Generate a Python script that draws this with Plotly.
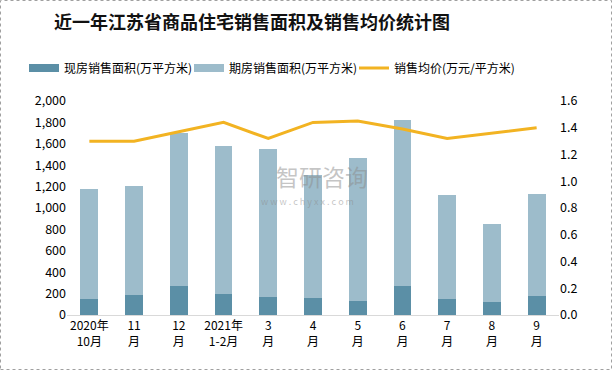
import plotly.graph_objects as go

categories = ["2020年<br>10月", "11<br>月", "12<br>月", "2021年<br>1-2月", "3<br>月", "4<br>月",
              "5<br>月", "6<br>月", "7<br>月", "8<br>月", "9<br>月"]
existing_area = [152, 190, 274, 199, 171, 162, 134, 274, 152, 124, 180]
forward_area = [1028, 1018, 1423, 1383, 1383, 1149, 1336, 1551, 972, 729, 953]
avg_price = [1.30, 1.30, 1.37, 1.44, 1.32, 1.44, 1.45, 1.39, 1.32, 1.36, 1.40]

FONT = "Noto Sans CJK SC"
C_EXIST, C_FWD, C_PRICE = "#5b8fa6", "#9dbccb", "#f2b322"

fig = go.Figure()
fig.add_trace(go.Bar(x=categories, y=existing_area, name="现房销售面积(万平方米)", showlegend=False,
                     marker=dict(color=C_EXIST, line=dict(width=0))))
fig.add_trace(go.Bar(x=categories, y=forward_area, name="期房销售面积(万平方米)", showlegend=False,
                     marker=dict(color=C_FWD, line=dict(width=0))))
fig.add_trace(go.Scatter(x=categories, y=avg_price, name="销售均价(万元/平方米)", yaxis="y2",
                         mode="lines", line=dict(color=C_PRICE, width=3), showlegend=False))
# legend entries (wide rectangular keys as in the reference)
fig.add_trace(go.Scatter(x=[None], y=[None], name="现房销售面积(万平方米)", mode="lines",
                         line=dict(color=C_EXIST, width=8)))
fig.add_trace(go.Scatter(x=[None], y=[None], name="期房销售面积(万平方米)", mode="lines",
                         line=dict(color=C_FWD, width=8)))
fig.add_trace(go.Scatter(x=[None], y=[None], name="销售均价(万元/平方米)", mode="lines",
                         line=dict(color=C_PRICE, width=3)))

L, R, T, B = 67, 53, 101, 55
pw, ph = 612 - L - R, 370 - T - B

fig.update_layout(
    width=612, height=370,
    margin=dict(l=L, r=R, t=T, b=B, autoexpand=False),
    paper_bgcolor="white", plot_bgcolor="white",
    barmode="stack", bargap=0.6,
    font=dict(family=FONT, size=12, color="#000"),
    title=dict(text="<b>近一年江苏省商品住宅销售面积及销售均价统计图</b>",
               x=252 / 612, xanchor="center", xref="container", y=1 - 23 / 370, yanchor="middle", yref="container",
               font=dict(family=FONT, size=18, color="#111")),
    showlegend=True,
    legend=dict(orientation="h", x=24 / 612, xanchor="left", xref="container",
                y=1 - 68 / 370, yanchor="middle", yref="container",
                font=dict(family=FONT, size=12), traceorder="normal",
                entrywidth=120, entrywidthmode="pixels", itemwidth=30),
    xaxis=dict(showgrid=False, showline=True, linecolor="#d9d9d9", linewidth=1,
               ticks="", tickfont=dict(size=12), fixedrange=True),
    yaxis=dict(range=[0, 2000], dtick=200, tickformat=",d", showgrid=False, zeroline=False,
               showline=False, ticks="", tickfont=dict(size=12.5), fixedrange=True),
    yaxis2=dict(range=[0, 1.6], dtick=0.2, tickformat=".1f", overlaying="y", side="right",
                showgrid=False, zeroline=False, showline=False, ticks="", tickfont=dict(size=12.5),
                fixedrange=True),
)

# outer frame
fig.add_shape(type="rect", xref="paper", yref="paper",
              x0=(0.5 - L) / pw, x1=(611.5 - L) / pw,
              y0=(T + ph - 369.5) / ph, y1=(T + ph - 0.5) / ph,
              line=dict(color="#a0a0a0", width=1, dash="dot"), fillcolor="rgba(0,0,0,0)", layer="below")

# watermark
fig.add_annotation(text="智研咨询", xref="paper", yref="paper",
                   x=(322 - L) / pw, y=(T + ph - 176) / ph, showarrow=False,
                   font=dict(family=FONT, size=23, color="rgba(140,140,140,0.5)"))
fig.add_annotation(text="w w w . c h y x x . c o m", xref="paper", yref="paper",
                   x=(307 - L) / pw, y=(T + ph - 201) / ph, showarrow=False,
                   font=dict(family=FONT, size=9, color="rgba(140,140,140,0.5)"))

fig.write_html("out.html", config={"displayModeBar": False},
               post_script="document.body.style.margin='0';document.body.style.overflow='hidden';")
